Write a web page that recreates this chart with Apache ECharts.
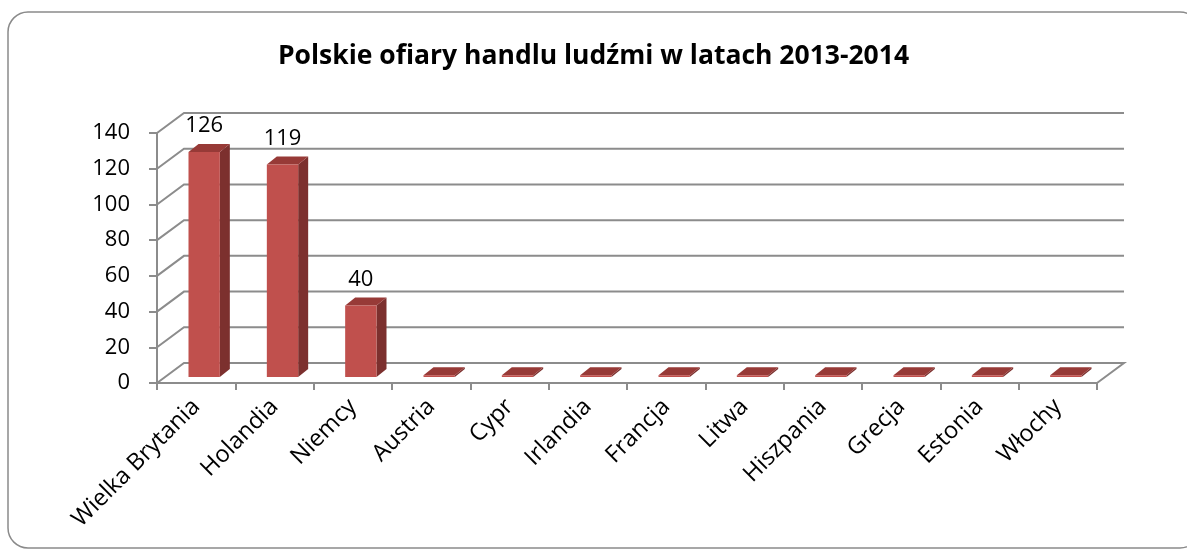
<html>
<head>
    <meta charset="utf-8">
    <script src="https://cdn.jsdelivr.net/npm/echarts@6/dist/echarts.min.js"></script>
</head>
<body style="margin:0;background:#fff">
<div id="main" style="width:1187px;height:559px"></div>
<script>
    var titleText = 'Polskie ofiary handlu ludźmi w latach 2013-2014';
    var countries = ['Wielka Brytania', 'Holandia', 'Niemcy', 'Austria', 'Cypr', 'Irlandia',
        'Francja', 'Litwa', 'Hiszpania', 'Grecja', 'Estonia', 'Włochy'];
    var victims = [126, 119, 40, 1, 1, 1, 1, 1, 1, 1, 1, 1];
    var labelled = [true, true, true, false, false, false, false, false, false, false, false, false];
    var yTicks = [0, 20, 40, 60, 80, 100, 120, 140];

    var FONT = 'Open Sans';
    var GRID_COLOR = '#8c8c8c';
    // 3d look: wall depth and bar placement inside it
    var wallDx = 27, wallDy = -20;
    var barDx = 8, barDy = -6;
    var depthDx = 10, depthDy = -8;

    var chart = echarts.init(document.getElementById('main'));

    function renderWall(params, api) {
        var cs = params.coordSys;
        var y = api.coord([0, api.value(1)])[1];
        var x0 = cs.x, x1 = cs.x + cs.width;
        var pts = [[x0, y], [x0 + wallDx, y + wallDy], [x1 + wallDx, y + wallDy]];
        if (api.value(1) === 0) {
            pts.push([x1, y]);
        }
        return {
            type: 'polyline',
            shape: {points: pts},
            style: {stroke: GRID_COLOR, lineWidth: 2, fill: null}
        };
    }

    function renderBar(params, api) {
        var idx = api.value(0);
        var top = api.coord([idx, api.value(1)]);
        var base = api.coord([idx, 0]);
        var band = api.size([1, 0])[0];
        var w = band * 0.4;
        var l = top[0] - w / 2 + barDx;
        var r = l + w;
        var t = top[1] + barDy;
        var b = base[1] + barDy;
        var children = [
            {
                type: 'polygon',
                shape: {points: [[r, t], [r + depthDx, t + depthDy], [r + depthDx, b + depthDy], [r, b]]},
                style: {fill: '#7c302e'}
            },
            {
                type: 'polygon',
                shape: {points: [[l, t], [l + depthDx, t + depthDy], [r + depthDx, t + depthDy], [r, t]]},
                style: {fill: '#973a37'}
            },
            {
                type: 'rect',
                shape: {x: l, y: t, width: w, height: Math.max(b - t, 1)},
                style: {fill: '#c0504d'}
            }
        ];
        if (labelled[params.dataIndex]) {
            children.push({
                type: 'text',
                style: {
                    text: String(api.value(1)),
                    x: (l + r) / 2,
                    y: t + depthDy - 7,
                    align: 'center',
                    verticalAlign: 'bottom',
                    fontFamily: FONT,
                    fontSize: 22,
                    fill: '#000'
                }
            });
        }
        return {type: 'group', children: children};
    }

    var option = {
        animation: false,
        title: {
            text: titleText,
            left: 'center',
            top: 38,
            textStyle: {fontFamily: FONT, fontSize: 26.5, fontWeight: 'bold', color: '#000'}
        },
        graphic: [{
            type: 'rect',
            shape: {x: 8, y: 12, width: 1192, height: 536, r: 20},
            style: {fill: null, stroke: '#8a8a8a', lineWidth: 1.5},
            z: -1
        }],
        grid: {left: 157, right: 90, top: 133, bottom: 176},
        xAxis: {
            type: 'category',
            data: countries,
            axisLine: {lineStyle: {color: GRID_COLOR, width: 2}},
            axisTick: {show: true, length: 7, lineStyle: {color: GRID_COLOR, width: 2}},
            axisLabel: {
                rotate: 45,
                margin: 20,
                interval: 0,
                fontFamily: FONT,
                fontSize: 23.5,
                color: '#000'
            }
        },
        yAxis: {
            type: 'value',
            min: 0,
            max: 140,
            interval: 20,
            axisLine: {show: true, lineStyle: {color: GRID_COLOR, width: 2}},
            axisTick: {show: true, length: 8, lineStyle: {color: GRID_COLOR, width: 2}},
            splitLine: {show: false},
            axisLabel: {margin: 27, fontFamily: FONT, fontSize: 22, color: '#000'}
        },
        series: [
            {
                type: 'custom',
                renderItem: renderWall,
                data: yTicks.map(function (v) { return [0, v]; }),
                z: 1,
                silent: true
            },
            {
                type: 'custom',
                renderItem: renderBar,
                data: victims.map(function (v, i) { return [i, v]; }),
                z: 3
            }
        ]
    };

    chart.setOption(option);
</script>
</body>
</html>
